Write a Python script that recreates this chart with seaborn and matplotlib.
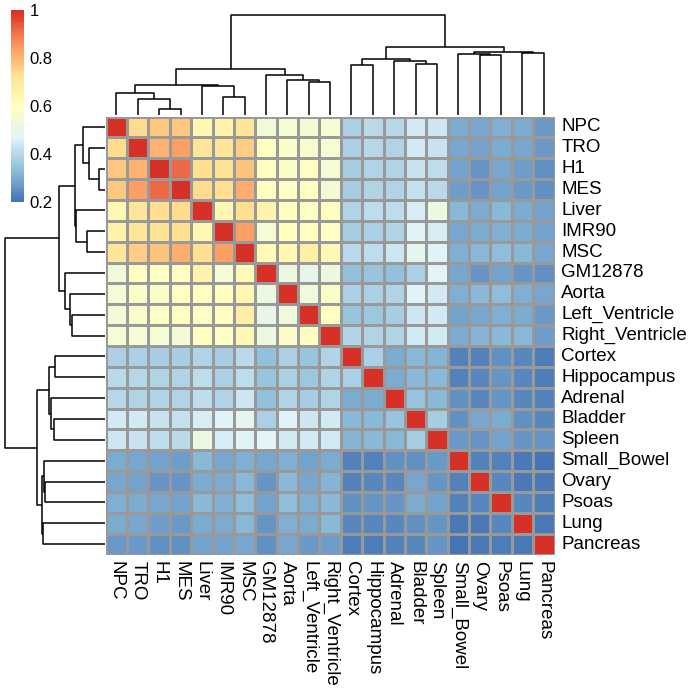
import numpy as np
import pandas as pd
import matplotlib
matplotlib.use('Agg')
import matplotlib.pyplot as plt
import seaborn as sns
from matplotlib.colors import LinearSegmentedColormap

# ── data ──────────────────────────────────────────────────────────────────────
samples = ['NPC', 'TRO', 'H1', 'MES', 'Liver', 'IMR90', 'MSC', 'GM12878',
           'Aorta', 'Left_Ventricle', 'Right_Ventricle', 'Cortex', 'Hippocampus',
           'Adrenal', 'Bladder', 'Spleen', 'Small_Bowel', 'Ovary', 'Psoas',
           'Lung', 'Pancreas']

# lower triangle of the correlation matrix (row i, columns 0..i-1)
corr_lower = [
    [],
    [.74],
    [.775, .80],
    [.775, .835, .92],
    [.64, .71, .73, .74],
    [.65, .71, .72, .73, .64],
    [.71, .76, .78, .81, .73, .835],
    [.54, .60, .60, .60, .65, .555, .62],
    [.555, .578, .578, .595, .60, .605, .64, .525],
    [.55, .575, .59, .595, .59, .605, .67, .50, .535],
    [.555, .555, .555, .545, .605, .585, .63, .52, .58, .605],
    [.38, .38, .375, .375, .385, .37, .40, .34, .38, .35, .385],
    [.405, .395, .385, .385, .415, .38, .415, .345, .38, .355, .385, .38],
    [.395, .39, .385, .385, .41, .39, .435, .34, .385, .375, .385, .30, .30],
    [.445, .445, .425, .42, .45, .47, .49, .38, .47, .435, .44, .325, .325, .345],
    [.435, .43, .415, .405, .52, .45, .47, .475, .445, .44, .44, .315, .32, .325, .37],
    [.30, .29, .28, .275, .325, .29, .31, .29, .305, .285, .30, .23, .23, .25, .255, .265],
    [.295, .285, .26, .26, .30, .30, .325, .26, .325, .295, .315, .23, .235, .24, .29, .26, .225],
    [.31, .30, .29, .285, .32, .31, .335, .285, .335, .31, .325, .25, .26, .26, .30, .285, .23, .24],
    [.30, .295, .275, .27, .30, .30, .32, .26, .31, .30, .32, .24, .24, .24, .25, .26, .21, .215, .235],
    [.27, .27, .25, .255, .285, .285, .295, .25, .29, .27, .275, .22, .22, .23, .24, .26, .20, .21, .22, .215],
]

# hierarchical clustering merges (scipy style ids), heights
merge_a = [2, 1, 5, 0, 4, 24, 9, 8, 7, 26, 11, 14, 13, 31, 17, 16, 19, 36, 34, 30]
merge_b = [3, 21, 6, 22, 23, 25, 10, 27, 28, 29, 12, 15, 32, 33, 18, 35, 20, 37, 38, 39]
merge_h = [19, 48, 54, 67, 88, 91, 98, 105, 120, 138, 149, 152, 162, 167,
           179, 183, 187, 190, 205, 301]

cbar_ticks = [0.2, 0.4, 0.6, 0.8, 1.0]
cbar_labels = ['0.2', '0.4', '0.6', '0.8', '1']

n = len(samples)
mat = np.eye(n)
for i, row in enumerate(corr_lower):
    for j, v in enumerate(row):
        mat[i, j] = mat[j, i] = v
df = pd.DataFrame(mat, index=samples, columns=samples)

# ── style ─────────────────────────────────────────────────────────────────────
sns.set_style('white')
plt.rcParams['font.family'] = ['Liberation Sans', 'DejaVu Sans']
plt.rcParams['text.color'] = 'black'
plt.rcParams['xtick.color'] = 'black'
plt.rcParams['ytick.color'] = 'black'

cmap = LinearSegmentedColormap.from_list(
    'rdylbu_r', ['#4575B4', '#91BFDB', '#E0F3F8', '#FFFFBF', '#FEE090', '#FC8D59', '#D73027'], N=100)

W, H = 692, 691
fig = plt.figure(figsize=(W / 100, H / 100), dpi=100)

def box(x0, y0, x1, y1):
    return [x0 / W, (H - y1) / H, (x1 - x0) / W, (y1 - y0) / H]

hx0, hy0, hx1, hy1 = 105.7, 116.5, 554.5, 554.5
ax = fig.add_axes(box(hx0, hy0, hx1, hy1))
cax = fig.add_axes(box(11, 10, 24, 202))
ax_top = fig.add_axes(box(hx0, 14.7, hx1, 115))
ax_left = fig.add_axes(box(4.7, hy0, 105, hy1))

sns.heatmap(df, ax=ax, cmap=cmap, vmin=0.2, vmax=1.0, linewidths=1.0,
            linecolor='#999999', cbar_ax=cax, xticklabels=True, yticklabels=True,
            cbar_kws={'ticks': cbar_ticks})

ax.yaxis.tick_right()
ax.tick_params(axis='both', length=0, labelsize=13.5, pad=5, labelcolor='black')
ax.set_yticklabels(samples, rotation=0, va='center')
ax.set_xticklabels(samples, rotation=270, ha='center', va='top')
ax.set_xlabel('')
ax.set_ylabel('')

cbar = ax.collections[0].colorbar
cbar.outline.set_visible(False)
cbar.set_ticks(cbar_ticks)
cbar.set_ticklabels(cbar_labels)
cax.tick_params(length=0, labelsize=12, pad=4, labelcolor='black')

# ── dendrograms ───────────────────────────────────────────────────────────────
def draw_dendro(dax, orient):
    pos = {i: i + 0.5 for i in range(n)}
    hgt = {i: 0.0 for i in range(n)}
    for k, (a, b, h) in enumerate(zip(merge_a, merge_b, merge_h)):
        xs = [pos[a], pos[a], pos[b], pos[b]]
        ys = [hgt[a], h, h, hgt[b]]
        if orient == 'top':
            dax.plot(xs, ys, color='black', lw=1.1, clip_on=False, solid_capstyle='butt')
        else:
            dax.plot(ys, xs, color='black', lw=1.1, clip_on=False, solid_capstyle='butt')
        pos[n + k] = (pos[a] + pos[b]) / 2
        hgt[n + k] = h
    dax.axis('off')

draw_dendro(ax_top, 'top')
ax_top.set_xlim(0, n)
ax_top.set_ylim(0, max(merge_h))

draw_dendro(ax_left, 'left')
ax_left.set_ylim(n, 0)
ax_left.set_xlim(max(merge_h), 0)

plt.savefig('out.png', dpi=100)
